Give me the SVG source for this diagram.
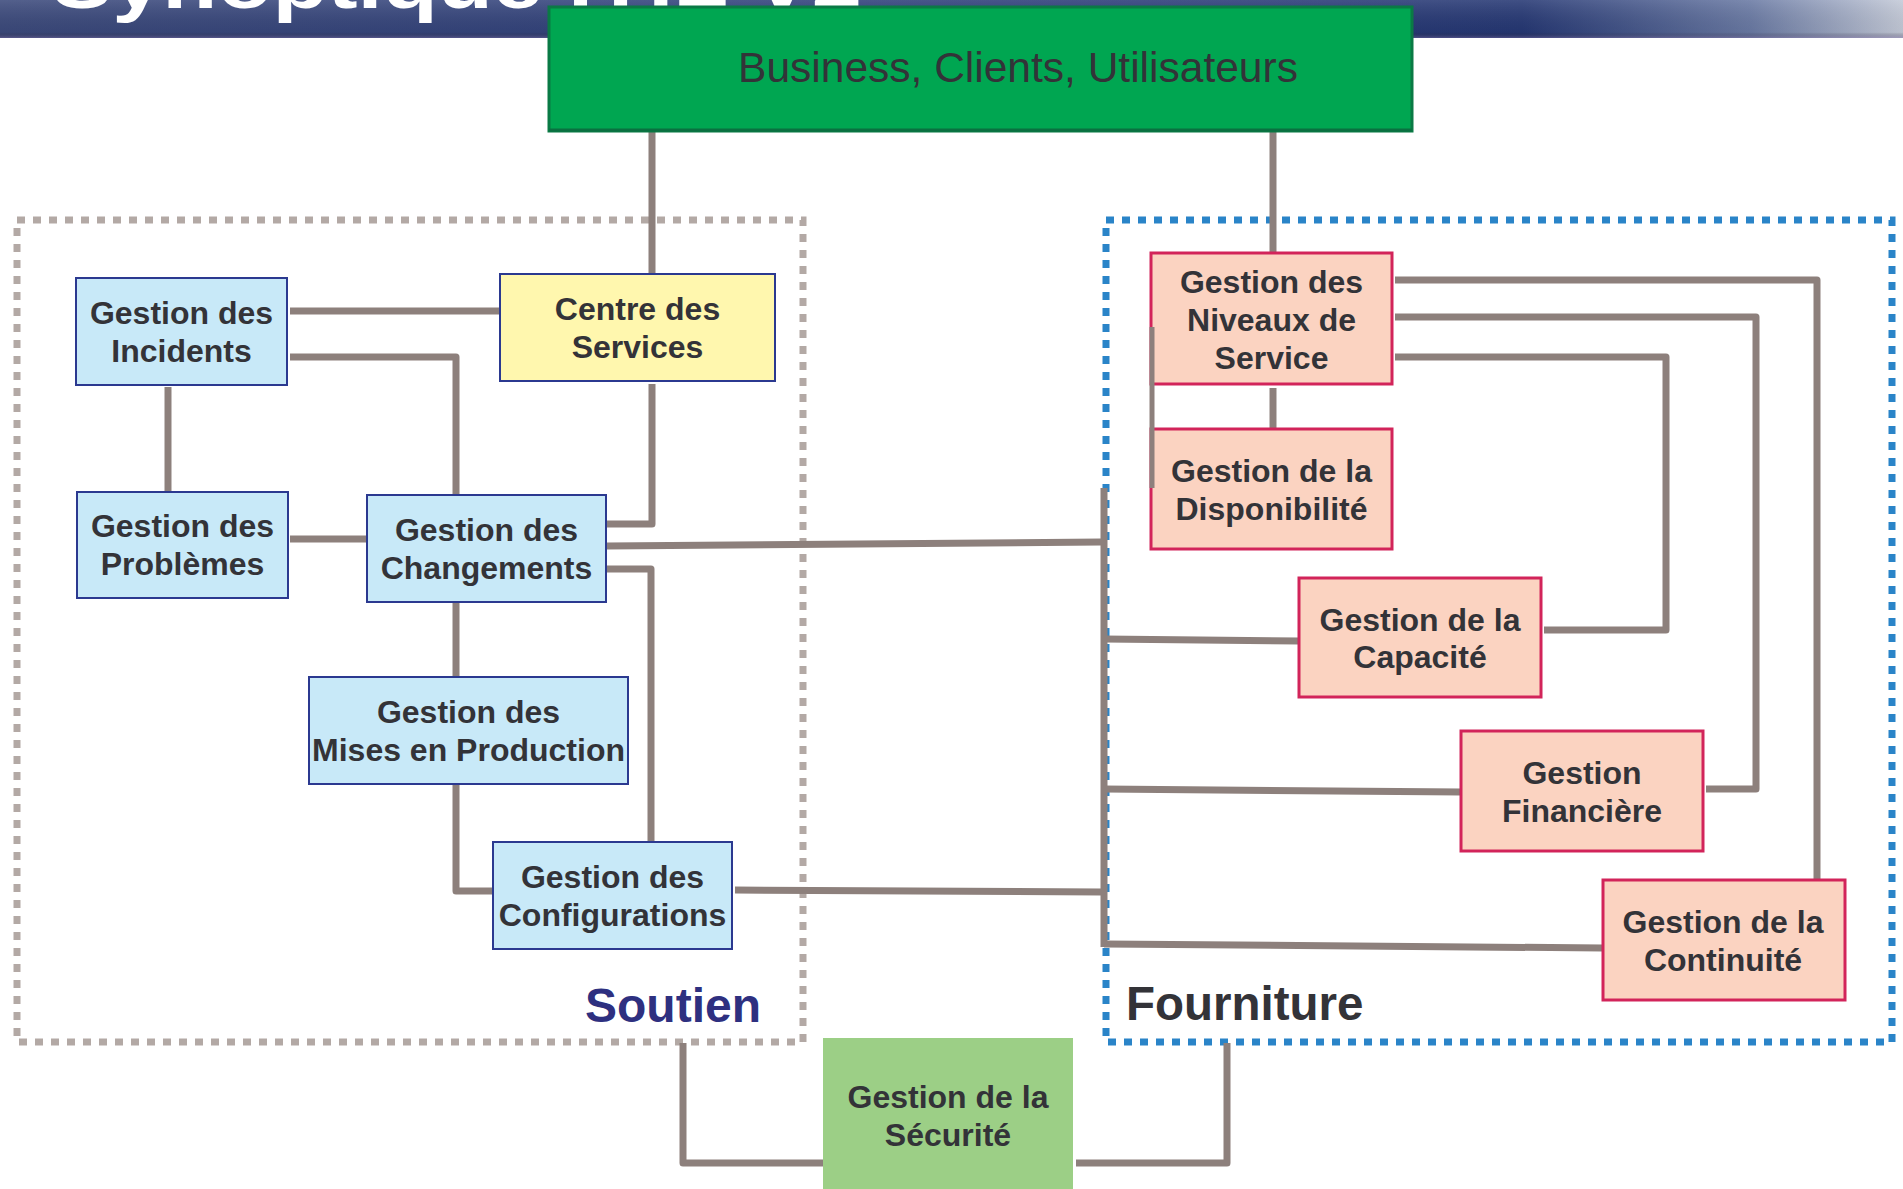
<svg xmlns="http://www.w3.org/2000/svg" width="1903" height="1189" viewBox="0 0 1903 1189">
<style>
.t{font-family:"Liberation Sans",Arial,Helvetica,sans-serif;font-weight:bold;font-size:32px;fill:#333338;text-anchor:middle}
.blue{fill:#c8e9f8;stroke:#2b3990;stroke-width:2}
.yel{fill:#fff7ae;stroke:#2b3990;stroke-width:2}
.sal{fill:#fbd3c1;stroke:#d2245a;stroke-width:3}
.c{fill:none;stroke:#8d807c;stroke-width:7;stroke-linejoin:round}
</style>
<defs>
<linearGradient id="ban" x1="0" y1="0" x2="1" y2="0">
<stop offset="0" stop-color="#3c4a7c"/>
<stop offset="0.3" stop-color="#34447c"/>
<stop offset="0.6" stop-color="#2c3c78"/>
<stop offset="0.8" stop-color="#263874"/>
<stop offset="0.92" stop-color="#6a7aa4"/>
<stop offset="1" stop-color="#c4cad8"/>
</linearGradient>
<linearGradient id="banv" x1="0" y1="0" x2="0" y2="1">
<stop offset="0" stop-color="#ffffff" stop-opacity="0.12"/>
<stop offset="0.85" stop-color="#000000" stop-opacity="0.05"/>
<stop offset="1" stop-color="#7a6aa0" stop-opacity="0.5"/>
</linearGradient>
</defs>
<rect x="0" y="0" width="1903" height="1189" fill="#ffffff"/>
<g id="banner">
<rect x="0" y="0" width="1903" height="38" fill="url(#ban)"/>
<rect x="0" y="0" width="1903" height="38" fill="url(#banv)"/>
<text x="52" y="8" font-family="'Liberation Sans',Arial,sans-serif" font-weight="bold" font-size="72" fill="#ffffff" textLength="810" lengthAdjust="spacingAndGlyphs">Synoptique ITIL V2</text>
</g>
<g id="soutien-zone">
<rect x="17" y="220" width="786" height="822" fill="none" stroke="#b3a9a5" stroke-width="7" stroke-dasharray="8 8"/>
</g>
<g id="fourniture-zone">
<rect x="1106" y="220" width="786" height="822" fill="none" stroke="#2a84c8" stroke-width="7" stroke-dasharray="8 8"/>
</g>
<g id="connectors">
<path class="c" d="M652,132 V274"/>
<path class="c" d="M1273,132 V253"/>
<path class="c" d="M290,311 H500"/>
<path class="c" d="M290,357 H456 V495"/>
<path class="c" d="M168,387 V492"/>
<path class="c" d="M290,539 H367"/>
<path class="c" d="M652,384 V524 H607"/>
<path class="c" d="M607,546 L1101,542"/>
<path class="c" d="M607,569 H651 V842"/>
<path class="c" d="M456,602 V677"/>
<path class="c" d="M456,784 V891 H493"/>
<path class="c" d="M735,890 L1101,892"/>
<path class="c" d="M1104,488 V947"/>
<path class="c" d="M1104,639 L1299,641"/>
<path class="c" d="M1104,789 L1461,792"/>
<path class="c" d="M1104,944 L1603,948"/>
<path class="c" d="M1395,280 H1817 V880"/>
<path class="c" d="M1395,317 H1756 V789 H1706"/>
<path class="c" d="M1395,357 H1666 V630 H1544"/>
<path class="c" d="M1273,388 V429"/>
<path class="c" d="M683,1043 V1163 H823"/>
<path class="c" d="M1076,1163 H1227 V1043"/>
</g>
<g id="business">
<rect x="549" y="7" width="863" height="124" fill="#00a651" stroke="#0a7a45" stroke-width="3"/>
<line x1="549" y1="130" x2="1412" y2="130" stroke="#0a7040" stroke-width="3"/>
<text x="1018" y="82" font-family="'Liberation Sans',Arial,sans-serif" font-size="42.5" fill="#333338" text-anchor="middle">Business, Clients, Utilisateurs</text>
</g>
<g id="incidents">
<rect class="blue" x="76" y="278" width="211" height="107"/>
<text class="t" x="181.5" y="324">Gestion des</text>
<text class="t" x="181.5" y="362">Incidents</text>
</g>
<g id="centre-services">
<rect class="yel" x="500" y="274" width="275" height="107"/>
<text class="t" x="637.5" y="320">Centre des</text>
<text class="t" x="637.5" y="358">Services</text>
</g>
<g id="problemes">
<rect class="blue" x="77" y="492" width="211" height="106"/>
<text class="t" x="182.5" y="537">Gestion des</text>
<text class="t" x="182.5" y="575">Problèmes</text>
</g>
<g id="changements">
<rect class="blue" x="367" y="495" width="239" height="107"/>
<text class="t" x="486.5" y="541">Gestion des</text>
<text class="t" x="486.5" y="579">Changements</text>
</g>
<g id="mises-en-production">
<rect class="blue" x="309" y="677" width="319" height="107"/>
<text class="t" x="468.5" y="723">Gestion des</text>
<text class="t" x="468.5" y="761">Mises en Production</text>
</g>
<g id="configurations">
<rect class="blue" x="493" y="842" width="239" height="107"/>
<text class="t" x="612.5" y="888">Gestion des</text>
<text class="t" x="612.5" y="926">Configurations</text>
</g>
<g id="niveaux-service">
<rect class="sal" x="1151" y="253" width="241" height="131"/>
<text class="t" x="1271.5" y="293">Gestion des</text>
<text class="t" x="1271.5" y="331">Niveaux de</text>
<text class="t" x="1271.5" y="369">Service</text>
</g>
<g id="disponibilite">
<rect class="sal" x="1151" y="429" width="241" height="120"/>
<text class="t" x="1271.5" y="482">Gestion de la</text>
<text class="t" x="1271.5" y="520">Disponibilité</text>
</g>
<g id="capacite">
<rect class="sal" x="1299" y="578" width="242" height="119"/>
<text class="t" x="1420" y="631">Gestion de la</text>
<text class="t" x="1420" y="668">Capacité</text>
</g>
<g id="financiere">
<rect class="sal" x="1461" y="731" width="242" height="120"/>
<text class="t" x="1582" y="784">Gestion</text>
<text class="t" x="1582" y="822">Financière</text>
</g>
<g id="continuite">
<rect class="sal" x="1603" y="880" width="242" height="120"/>
<text class="t" x="1723" y="933">Gestion de la</text>
<text class="t" x="1723" y="971">Continuité</text>
</g>
<g id="securite">
<rect x="823" y="1038" width="250" height="160" fill="#9ccf86"/>
<text class="t" x="948" y="1108">Gestion de la</text>
<text class="t" x="948" y="1146">Sécurité</text>
</g>
<g id="overlay-connector">
<path d="M1152,327 V488" fill="none" stroke="#8d807c" stroke-width="5"/>
</g>
<g id="labels">
<text x="585" y="1022" font-family="'Liberation Sans',Arial,sans-serif" font-weight="bold" font-size="48" fill="#2e3080">Soutien</text>
<text x="1126" y="1020" font-family="'Liberation Sans',Arial,sans-serif" font-weight="bold" font-size="47.5" fill="#333338">Fourniture</text>
</g>
</svg>
